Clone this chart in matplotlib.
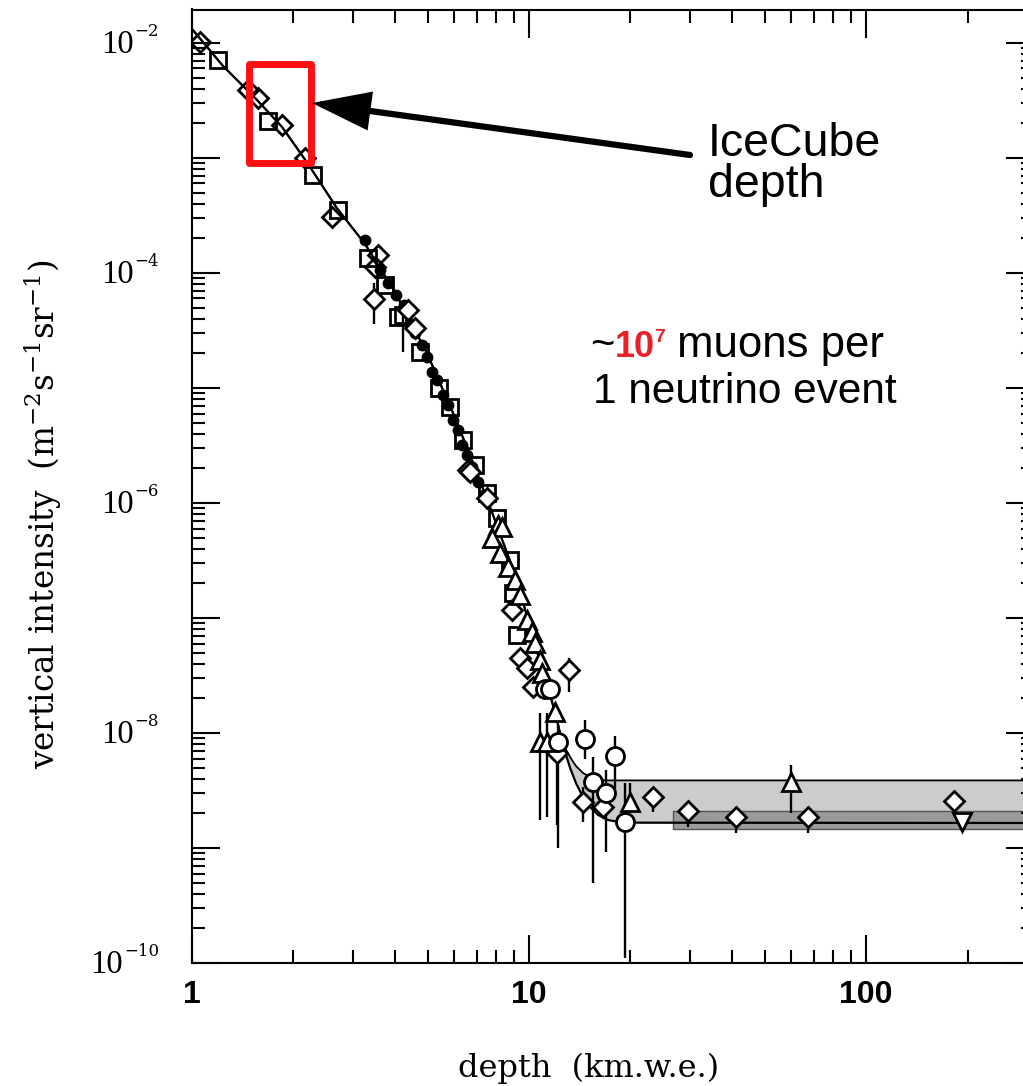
import matplotlib
matplotlib.use('Agg')
import matplotlib.pyplot as plt
import matplotlib.transforms as mtransforms
from matplotlib import font_manager
from matplotlib.ticker import FixedLocator, LogLocator, NullFormatter, FixedFormatter
from matplotlib.patches import Rectangle
import numpy as np

# ---------------- data (depth in km.w.e., intensity in m^-2 s^-1 sr^-1) -------------
fit_x = [1.0, 1.236, 1.56, 1.85, 2.19, 2.69, 3.26, 4.0, 4.98, 5.95, 6.77, 7.82, 9.21,
         9.93, 10.78, 11.39, 11.94, 12.36, 12.79, 13.24, 13.78, 14.46, 15.17, 16.02,
         17.16, 18.6, 21.35, 330.0]
fit_lo = [1.324e-2, 6.31e-3, 3.19e-3, 1.86e-3, 9.23e-4, 3.67e-4, 1.79e-4, 6.84e-5,
          2.01e-5, 6.06e-6, 2.37e-6, 7.87e-7, 2.14e-7, 9.6e-8, 4.14e-8, 2.46e-8,
          1.52e-8, 1.0e-8, 6.84e-9, 4.97e-9, 3.67e-9, 2.77e-9, 2.27e-9, 1.94e-9,
          1.75e-9, 1.68e-9, 1.66e-9, 1.65e-9]
fit_hi = [1.324e-2, 6.31e-3, 3.19e-3, 1.86e-3, 9.23e-4, 3.67e-4, 1.79e-4, 6.84e-5,
          2.01e-5, 6.06e-6, 2.37e-6, 7.87e-7, 2.14e-7, 9.6e-8, 4.14e-8, 2.46e-8,
          1.52e-8, 1.0e-8, 7.41e-9, 6.18e-9, 5.16e-9, 4.49e-9, 4.14e-9, 3.9e-9,
          3.87e-9, 3.87e-9, 3.87e-9, 3.87e-9]

band_x = [26.8, 330.0]
band_lo = 1.46e-9
band_hi = 2.1e-9

dia_open_x = [1.056, 1.466, 1.57, 1.85, 2.165, 2.60, 3.56, 3.49]
dia_open_y = [1.02e-2, 3.9e-3, 3.33e-3, 1.94e-3, 1.0e-3, 3.07e-4, 1.44e-4, 1.13e-4]
dia_x = [3.47, 4.38, 4.59, 6.59, 6.68, 7.5, 8.91, 9.4, 9.86, 10.28, 13.14, 12.11,
         14.46, 16.6, 23.3, 29.6, 41.1, 67.3, 182.4]
dia_y = [5.94e-5, 4.77e-5, 3.33e-5, 1.94e-6, 1.86e-6, 1.10e-6, 1.17e-7, 4.49e-8,
         3.67e-8, 2.51e-8, 3.53e-8, 6.7e-9, 2.51e-9, 2.27e-9, 2.77e-9, 2.1e-9,
         1.86e-9, 1.86e-9, 2.56e-9]
sq_x = [1.194, 1.68, 2.29, 2.71, 3.33, 3.74, 4.09, 4.23, 4.75, 5.41, 5.83, 6.37,
        6.91, 7.5, 8.04, 8.78, 8.97, 9.21]
sq_y = [7.12e-3, 2.1e-3, 7.11e-4, 3.53e-4, 1.35e-4, 7.87e-5, 4.14e-5, 4.31e-5,
        2.06e-5, 1.0e-5, 6.84e-6, 3.53e-6, 2.14e-6, 1.22e-6, 7.41e-7, 3.19e-7,
        1.65e-7, 7.11e-8]
dot_x = [3.26, 3.61, 3.82, 4.03, 4.26, 4.59, 4.81, 4.98, 5.15, 5.33, 5.56, 5.75,
         5.95, 6.16, 6.33, 6.55, 6.77, 7.06, 7.35]
dot_y = [1.94e-4, 1.06e-4, 8.18e-5, 6.44e-5, 5.27e-5, 3.01e-5, 2.37e-5, 1.86e-5,
         1.38e-5, 1.17e-5, 8.69e-6, 7.11e-6, 5.27e-6, 4.31e-6, 3.19e-6, 2.61e-6,
         2.06e-6, 1.52e-6, 1.17e-6]
tri_x = [8.09, 8.32, 7.77, 8.20, 8.66, 9.09, 9.40, 9.86, 10.2, 10.42, 10.78, 10.93,
         11.94, 10.78, 11.3, 19.95, 59.9]
tri_y = [6.44e-7, 6.18e-7, 4.97e-7, 3.67e-7, 2.77e-7, 2.14e-7, 1.58e-7, 9.6e-8,
         7.55e-8, 6.06e-8, 4.31e-8, 3.32e-8, 1.52e-8, 8.35e-9, 8.35e-9, 2.51e-9,
         3.75e-9]
circ_x = [11.15, 11.54, 12.19, 14.66, 18.0, 15.49, 16.92, 19.27]
circ_y = [2.41e-8, 2.41e-8, 8.35e-9, 8.87e-9, 6.31e-9, 3.75e-9, 3.01e-9, 1.68e-9]
dtri_x = [192.7]
dtri_y = [1.68e-9]

err_x = [3.47, 4.23, 13.14, 10.78, 11.3, 12.11, 12.19, 14.66, 18.0, 15.49, 16.92,
         19.27, 19.95, 59.9, 14.46, 23.3, 29.6, 41.1, 67.3]
err_y = [5.94e-5, 4.31e-5, 3.53e-8, 8.35e-9, 8.35e-9, 6.7e-9, 8.35e-9, 8.87e-9,
         6.31e-9, 3.75e-9, 3.01e-9, 1.68e-9, 2.51e-9, 3.75e-9, 2.51e-9, 2.77e-9,
         2.1e-9, 1.86e-9, 1.86e-9]
err_lo = [3.61e-5, 2.06e-5, 2.28e-8, 1.75e-9, 1.86e-9, 1.6e-9, 1.0e-9, 6.0e-9,
          3.19e-9, 4.97e-10, 9.22e-10, 1.1e-10, 2.51e-9, 2.01e-9, 1.68e-9, 2.06e-9,
          1.52e-9, 1.35e-9, 1.36e-9]
err_hi = [8.18e-5, 4.31e-5, 4.49e-8, 1.49e-8, 1.49e-8, 9.0e-9, 1.2e-8, 1.3e-8,
          9.42e-9, 6.18e-9, 4.77e-9, 3.67e-9, 3.67e-9, 5.27e-9, 3.39e-9, 2.77e-9,
          2.1e-9, 1.86e-9, 1.86e-9]

x_ticks = [1, 10, 100]
x_ticklabels = ['1', '10', '100']
y_label_exps = [-2, -4, -6, -8, -10]

# IceCube depth window (red box)
box_x = [1.481, 2.255]
box_y = [9.05e-4, 6.57e-3]


def pick(fams, weight='normal'):
    for f in fams:
        try:
            font_manager.findfont(font_manager.FontProperties(family=f, weight=weight),
                                  fallback_to_default=False)
            return f
        except Exception:
            pass
    return 'DejaVu Sans'


SANS = pick(['Liberation Sans', 'Arial', 'DejaVu Sans'])
NARROW = pick(['Liberation Sans Narrow', 'DejaVu Sans Condensed', 'Liberation Sans'], 'bold')
SERIF = pick(['Liberation Serif', 'DejaVu Serif'])
LABSERIF = pick(['DejaVu Serif'])
plt.rcParams['mathtext.fontset'] = 'dejavuserif'

W, H = 1023, 1086
fig = plt.figure(figsize=(W / 100, H / 100), dpi=100)
fig.patch.set_facecolor('white')
ax = fig.add_axes([192 / W, (H - 963) / H, 842 / W, 953.5 / H])
ax.set_xscale('log')
ax.set_yscale('log')
ax.set_xlim(1, 315)
ax.set_ylim(1e-10, 1.955e-2)

for s in ax.spines.values():
    s.set_linewidth(1.5)

ax.xaxis.set_major_locator(FixedLocator(x_ticks))
ax.xaxis.set_major_formatter(FixedFormatter(x_ticklabels))
ax.xaxis.set_minor_locator(LogLocator(base=10, subs=range(2, 10), numticks=30))
ax.xaxis.set_minor_formatter(NullFormatter())
ax.yaxis.set_major_locator(FixedLocator([10.0 ** e for e in range(-10, -1)]))
ax.yaxis.set_major_formatter(NullFormatter())
ax.yaxis.set_minor_locator(LogLocator(base=10, subs=range(2, 10), numticks=40))
ax.yaxis.set_minor_formatter(NullFormatter())
ax.tick_params(which='major', direction='in', length=20, width=1.5,
               top=True, right=True, pad=12)
ax.tick_params(which='minor', direction='in', length=9.5, width=1.5,
               top=True, right=True)
for lab in ax.get_xticklabels():
    lab.set_fontfamily(NARROW)
    lab.set_fontweight('bold')
    lab.set_fontsize(23)

# bands
ax.fill_between(fit_x, fit_lo, fit_hi, color='#cccccc', lw=0, zorder=1)
ax.fill_between(band_x, [band_lo] * 2, [band_hi] * 2, facecolor='#9a9a9a',
                edgecolor='#555555', lw=1, zorder=1.5)
ax.plot(fit_x, fit_hi, color='k', lw=1.3, zorder=2.4)
ax.plot(fit_x, fit_lo, color='k', lw=1.6, zorder=2.5)

# error bars
ey = np.array(err_y)
ax.errorbar(err_x, err_y, yerr=[ey - np.array(err_lo), np.array(err_hi) - ey],
            fmt='none', ecolor='k', elinewidth=1.7, capsize=0, zorder=2.2)

mk = dict(ls='none', markeredgecolor='k', markeredgewidth=2.0)
ax.plot(sq_x, sq_y, marker='s', ms=11, markerfacecolor='none', zorder=3, **mk)
ax.plot(dia_open_x, dia_open_y, marker='D', ms=10, markerfacecolor='none', zorder=3, **mk)
ax.plot(dot_x, dot_y, marker='o', ms=6.5, markerfacecolor='k', zorder=3.5, **mk)
ax.plot(dia_x, dia_y, marker='D', ms=10, markerfacecolor='white', zorder=4, **mk)
ax.plot(tri_x, tri_y, marker='^', ms=13, markerfacecolor='white', zorder=4, **mk)
ax.plot(circ_x, circ_y, marker='o', ms=13, markerfacecolor='white', zorder=4.2, **mk)
ax.plot(dtri_x, dtri_y, marker='v', ms=13, markerfacecolor='white', zorder=4, **mk)

# red box
ax.add_patch(Rectangle((box_x[0], box_y[0]), box_x[1] - box_x[0], box_y[1] - box_y[0],
                       fill=False, edgecolor='#ff1010', lw=5, joinstyle='round',
                       zorder=6, clip_on=False))

# arrow (figure pixels)
ax.annotate('', xy=(312, H - 103), xytext=(690, H - 155), xycoords='figure pixels',
            textcoords='figure pixels',
            arrowprops=dict(arrowstyle='-|>,head_length=3.3,head_width=1.1',
                            mutation_scale=10, lw=4.5, color='k',
                            shrinkA=0, shrinkB=0, joinstyle='miter'), zorder=7)

ident = mtransforms.IdentityTransform()
fig.text(708, H - 156, 'IceCube', transform=ident, fontsize=33.5, family=SANS,
         va='baseline', ha='left')
fig.text(708, H - 197, 'depth', transform=ident, fontsize=33.5, family=SANS,
         va='baseline', ha='left')

renderer = fig.canvas.get_renderer()


def pieces(x, y, items):
    for s, kw, dy in items:
        t = fig.text(x, y + dy, s, transform=ident, va='baseline', ha='left', **kw)
        x = t.get_window_extent(renderer).x1


RED = '#e8202a'
pieces(590, H - 357, [
    ('~', dict(fontsize=30, family=SANS, color='k'), 0),
    ('10', dict(fontsize=26, family=SANS, color=RED, fontweight='bold'), 0),
    ('7', dict(fontsize=14, family=SANS, color=RED, fontweight='bold'), 15),
    (' muons per', dict(fontsize=31.5, family=SANS, color='k'), 0),
])
fig.text(593, H - 403, '1 neutrino event', transform=ident, fontsize=30.5, family=SANS,
         va='baseline', ha='left')

# y tick labels 10^-n
spine_x = ax.transAxes.transform((0, 0))[0]
for e in y_label_exps:
    ty = ax.transData.transform((1, 10.0 ** e))[1]
    sup = fig.text(spine_x - 33, ty + 7, '\u2212' + str(-e), transform=ident,
                   ha='right', va='baseline', fontsize=12, family=LABSERIF)
    bb = sup.get_window_extent(renderer)
    fig.text(bb.x0 - 1, ty - 10, '10', transform=ident, ha='right', va='baseline',
             fontsize=23.5, family=SERIF)

# axis labels
fig.text(43 / W, (H - 514) / H,
         r'vertical intensity  (m$^{-2}$s$^{-1}$sr$^{-1}$)',
         rotation=90, ha='center', va='center', fontsize=23.5, family=LABSERIF)
fig.text(589 / W, (H - 1068) / H, 'depth  (km.w.e.)', ha='center', va='center',
         fontsize=23, family=LABSERIF)

fig.savefig('out.png', dpi=100, facecolor='white')
